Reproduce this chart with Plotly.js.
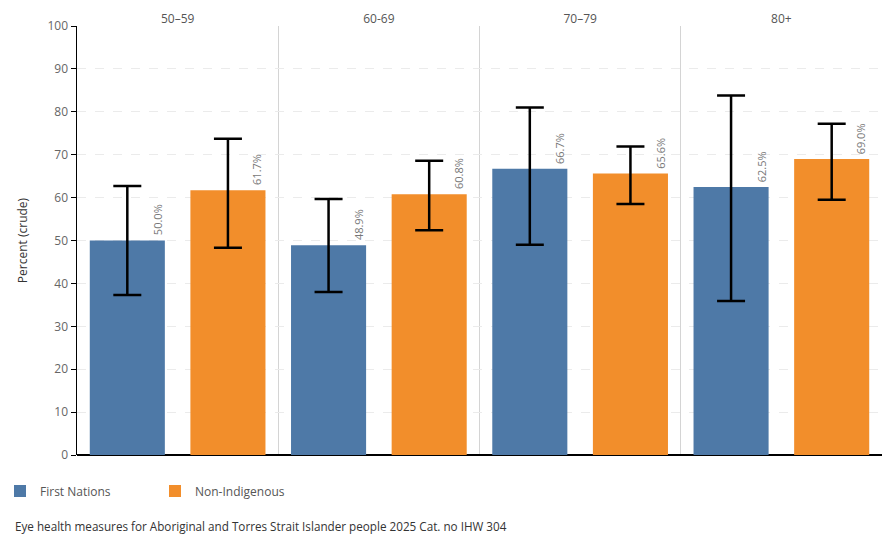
<!DOCTYPE html>
<html>
<head>
<meta charset="utf-8">
<script src="https://cdn.plot.ly/plotly-3.0.1.min.js"></script>
<style>html,body{margin:0;padding:0;background:#fff}#chart{width:890px;height:550px}</style>
</head>
<body>
<div id="chart"></div>
<script>
const ageGroups = ["50–59", "60-69", "70–79", "80+"];
const firstNations = [50.0, 48.9, 66.7, 62.5];
const firstNationsUpper = [62.7, 59.7, 81.0, 83.8];
const firstNationsLower = [37.3, 38.0, 49.0, 35.9];
const nonIndigenous = [61.7, 60.8, 65.6, 69.0];
const nonIndigenousUpper = [73.7, 68.6, 71.9, 77.2];
const nonIndigenousLower = [48.3, 52.4, 58.5, 59.5];

const FONT = "Open Sans, sans-serif";

function errBar(vals, up, lo) {
  return {
    type: 'data', symmetric: false,
    array: up.map((u, i) => u - vals[i]),
    arrayminus: lo.map((l, i) => vals[i] - l),
    color: '#000', thickness: 2.5, width: 14
  };
}

const traces = [
  {type: 'bar', name: 'First Nations', x: ageGroups, y: firstNations,
   marker: {color: '#4e79a7'}, error_y: errBar(firstNations, firstNationsUpper, firstNationsLower)},
  {type: 'bar', name: 'Non-Indigenous', x: ageGroups, y: nonIndigenous,
   marker: {color: '#f28e2b'}, error_y: errBar(nonIndigenous, nonIndigenousUpper, nonIndigenousLower)}
];

const annotations = [];
function addLabels(vals, shift) {
  vals.forEach((v, i) => {
    annotations.push({x: ageGroups[i], y: v, xref: 'x', yref: 'y', text: v.toFixed(1) + '%',
      showarrow: false, textangle: -90, xanchor: 'center', yanchor: 'bottom',
      xshift: shift, yshift: 3, font: {family: FONT, size: 11, color: '#777'}});
  });
}
addLabels(firstNations, -20.5);
addLabels(nonIndigenous, 79.5);

annotations.push({xref: 'paper', yref: 'paper', x: -64/805, y: -71/429, xanchor: 'left', yanchor: 'middle',
  text: 'Eye health measures for Aboriginal and Torres Strait Islander people 2025 Cat. no IHW 304',
  showarrow: false, font: {family: FONT, size: 11.7, color: '#333'}});

const layout = {
  width: 890, height: 550,
  margin: {l: 77, r: 8, t: 26, b: 95},
  paper_bgcolor: '#fff', plot_bgcolor: '#fff',
  font: {family: FONT, size: 12, color: '#555'},
  barmode: 'group', bargap: 0, bargroupgap: 0.254,
  showlegend: true,
  legend: {orientation: 'h', xref: 'container', yref: 'container', x: 0, y: 59/550, xanchor: 'left', yanchor: 'middle',
    font: {family: FONT, size: 12, color: '#555'}, itemwidth: 30, entrywidth: 110, traceorder: 'normal'},
  xaxis: {type: 'category', side: 'top', showline: false, ticks: '', showgrid: true, tickson: 'boundaries',
    gridcolor: '#d4d4d4', gridwidth: 1, tickfont: {family: FONT, size: 12, color: '#555'}, fixedrange: true},
  yaxis: {range: [0, 100], dtick: 10, tick0: 0, ticks: 'outside', ticklen: 5, tickcolor: '#000', tickwidth: 1,
    showline: true, linecolor: '#000', linewidth: 1.5, showgrid: true, gridcolor: '#ebebeb', griddash: 'dash',
    zeroline: true, zerolinecolor: '#000', zerolinewidth: 1.5,
    tickfont: {family: FONT, size: 12, color: '#666'},
    title: {text: 'Percent (crude)', font: {family: FONT, size: 12, color: '#333'}, standoff: 17}},
  annotations: annotations
};

Plotly.newPlot('chart', traces, layout, {displayModeBar: false, staticPlot: true});
</script>
</body>
</html>
